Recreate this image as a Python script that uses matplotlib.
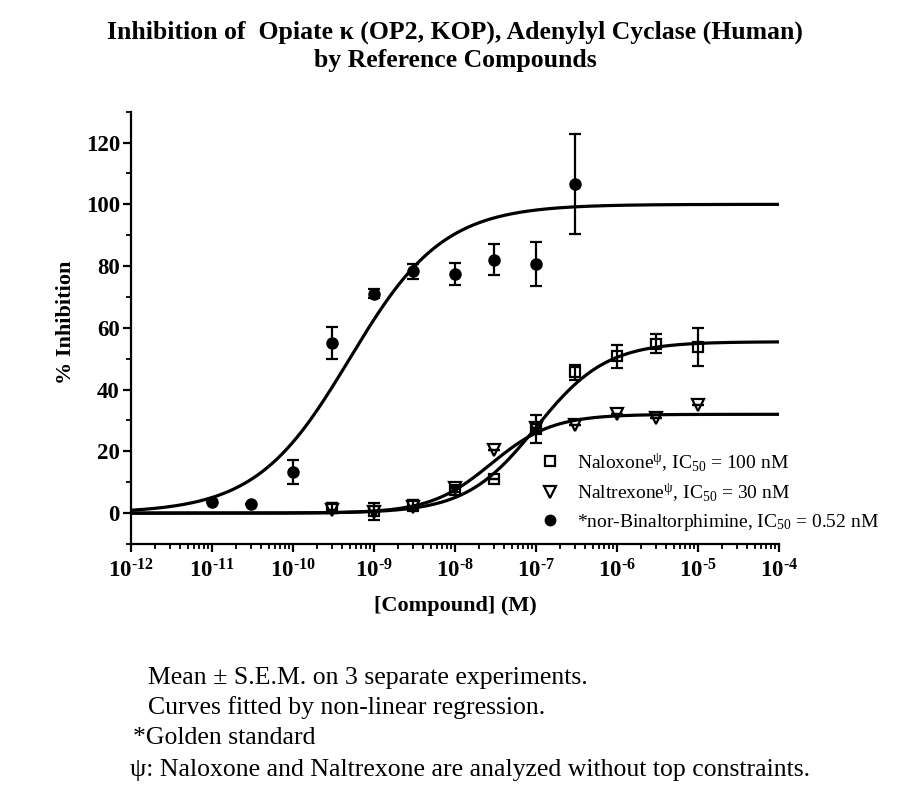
import numpy as np
import matplotlib
matplotlib.use("Agg")
import matplotlib.pyplot as plt
from matplotlib.lines import Line2D
from matplotlib.ticker import LogLocator, FixedLocator, MultipleLocator, NullFormatter

plt.rcParams['font.family'] = ['Liberation Serif', 'DejaVu Serif']
plt.rcParams['mathtext.fontset'] = 'custom'
plt.rcParams['mathtext.rm'] = 'Liberation Serif'
plt.rcParams['mathtext.bf'] = 'Liberation Serif:bold'
plt.rcParams['mathtext.it'] = 'Liberation Serif:italic'

# ---- data ----
conc_nbni = [1e-11, 3e-11, 1e-10, 3e-10, 1e-9, 3e-9, 1e-8, 3e-8, 1e-7, 3e-7]
nbni_mean = [3.6, 2.8, 13.3, 55.1, 71.1, 78.3, 77.5, 82.1, 80.6, 106.7]
nbni_sem = [0.0, 0.0, 3.8, 5.3, 1.4, 2.5, 3.5, 5.0, 7.1, 16.2]

conc_nal = [3e-10, 1e-9, 3e-9, 1e-8, 3e-8, 1e-7, 3e-7, 1e-6, 3e-6, 1e-5]
naloxone_mean = [1.7, 0.6, 2.5, 7.6, 10.9, 27.3, 45.6, 50.8, 54.9, 53.8]
naloxone_sem = [1.5, 2.8, 1.8, 0.8, 0.0, 4.6, 2.5, 3.8, 3.2, 6.2]

naltrexone_mean = [1.0, 0.5, 2.0, 8.0, 20.3, 27.5, 28.4, 32.0, 30.8, 34.9]
naltrexone_sem = [0.0, 0.0, 0.0, 0.0, 0.0, 0.0, 0.0, 0.0, 0.0, 0.0]

# fitted curve parameters (bottom, top, IC50, Hill slope)
fit_nbni = (0.0, 100.0, 0.5e-9, 0.75)
fit_naloxone = (0.0, 55.5, 1.0e-7, 1.0)
fit_naltrexone = (0.0, 32.0, 2.8e-8, 1.15)

legend_labels = [r'Naloxone$^{\mathrm{ψ}}$, IC$_{\mathrm{50}}$ = 100 nM',
                 r'Naltrexone$^{\mathrm{ψ}}$, IC$_{\mathrm{50}}$ = 30 nM',
                 r'*nor-Binaltorphimine, IC$_{\mathrm{50}}$ = 0.52 nM']
xtick_exps = [-12, -11, -10, -9, -8, -7, -6, -5, -4]
ytick_vals = [0, 20, 40, 60, 80, 100, 120]


def logistic(x, p):
    b, t, ic, h = p
    return b + (t - b) / (1.0 + (ic / x) ** h)


fig = plt.figure(figsize=(9.04, 7.96), dpi=100)
W, H = 904, 796
ax = fig.add_axes([131 / W, 1 - 544 / H, (779 - 131) / W, (544 - 111.7) / H])

xx = np.logspace(-12, -4, 400)
for p in (fit_nbni, fit_naloxone, fit_naltrexone):
    ax.plot(xx, logistic(xx, p), color='black', lw=2.3, zorder=2, solid_capstyle='butt')

ekw = dict(ecolor='black', elinewidth=1.6, capsize=4, capthick=1.6, linestyle='none', zorder=3)
ax.errorbar(conc_nbni, nbni_mean, yerr=nbni_sem, fmt='o', color='black', ms=8, **ekw)
ax.errorbar(conc_nal, naloxone_mean, yerr=naloxone_sem, fmt='s', mfc='none', mec='black',
            mew=1.6, ms=7.5, **ekw)
ax.errorbar(conc_nal, naltrexone_mean, yerr=naltrexone_sem, fmt='v', mfc='none', mec='black',
            mew=1.6, ms=8, **ekw)

ax.set_xscale('log')
ax.set_xlim(1e-12, 1e-4)
ax.set_ylim(-10, 130)

for s in ('top', 'right'):
    ax.spines[s].set_visible(False)
for s in ('left', 'bottom'):
    ax.spines[s].set_linewidth(1.6)

ax.xaxis.set_major_locator(FixedLocator([10.0 ** e for e in xtick_exps]))
ax.xaxis.set_minor_locator(LogLocator(base=10, subs=np.arange(2, 10), numticks=30))
ax.xaxis.set_minor_formatter(NullFormatter())
ax.set_xticklabels([r'$\mathbf{10^{‐%d}}$' % (-e) for e in xtick_exps])
ax.yaxis.set_major_locator(FixedLocator(ytick_vals))
ax.yaxis.set_minor_locator(MultipleLocator(10))
ax.set_yticklabels([str(v) for v in ytick_vals])

ax.tick_params(axis='both', which='major', direction='out', length=6, width=1.6, pad=4)
ax.tick_params(axis='both', which='minor', direction='out', length=3.5, width=1.3)
ax.tick_params(axis='y', which='major', labelsize=16.5, pad=2)
ax.tick_params(axis='x', which='major', labelsize=16.5, pad=5)
for lab in ax.get_yticklabels():
    lab.set_fontweight('bold')

# legend
handles = [Line2D([], [], marker='s', mfc='none', mec='black', mew=1.6, ms=7.5, ls='none'),
           Line2D([], [], marker='v', mfc='none', mec='black', mew=1.6, ms=8, ls='none'),
           Line2D([], [], marker='o', color='black', ms=7.5, ls='none')]
leg = ax.legend(handles, legend_labels, loc='upper left',
                bbox_to_anchor=(540 / W, 1 - 451 / H), bbox_transform=fig.transFigure,
                frameon=False, fontsize=14, handlelength=1.0, handletextpad=0.9,
                labelspacing=0.4, borderpad=0, borderaxespad=0)

# titles and labels
fig.text(455 / W, 1 - 32 / H, 'Inhibition of  Opiate κ (OP2, KOP), Adenylyl Cyclase (Human)',
         ha='center', va='center', fontsize=18.5, fontweight='bold')
fig.text(455 / W, 1 - 61 / H, 'by Reference Compounds',
         ha='center', va='center', fontsize=18.5, fontweight='bold')
fig.text(455 / W, 1 - 606 / H, '[Compound] (M)', ha='center', va='center',
         fontsize=16, fontweight='bold')
fig.text(66 / W, 1 - 322 / H, '% Inhibition', ha='center', va='center', rotation=90,
         fontsize=16, fontweight='bold')

# footnotes
notes = [(148, 678, 'Mean ± S.E.M. on 3 separate experiments.'),
         (148, 708, 'Curves fitted by non-linear regression.'),
         (133, 738, '*Golden standard'),
         (130, 770, 'ψ: Naloxone and Naltrexone are analyzed without top constraints.')]
for x, y, t in notes:
    fig.text(x / W, 1 - y / H, t, ha='left', va='center', fontsize=18.5)

fig.savefig('out.png', dpi=100)
